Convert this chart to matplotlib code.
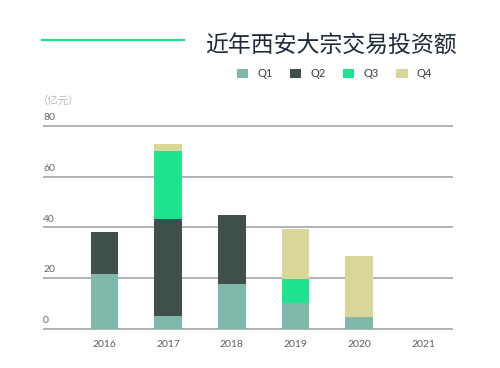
import numpy as np
import matplotlib.pyplot as plt
from matplotlib.lines import Line2D

plt.rcParams['font.family'] = ['Lato', 'Noto Sans CJK SC', 'DejaVu Sans']

# ── Data ──────────────────────────────────────────────────────────────────────
years = ['2016', '2017', '2018', '2019', '2020', '2021']
q1 = [21.5, 5.0, 17.7, 10.2, 4.6, 0]
q2 = [16.5, 38.4, 27.1, 0, 0, 0]
q3 = [0, 26.8, 0, 9.4, 0, 0]
q4 = [0, 2.5, 0, 19.9, 24.1, 0]
quarters = ['Q1', 'Q2', 'Q3', 'Q4']
colors = ['#80b9ab', '#3f4f4b', '#1ee28e', '#d8d699']
yticks = [0, 20, 40, 60, 80]

# ── Figure ────────────────────────────────────────────────────────────────────
fig = plt.figure(figsize=(5, 3.68), dpi=100)
ax = fig.add_axes([0.086, 0.0992, 0.821, 0.5659])

x = np.arange(len(years))
bottom = np.zeros(len(years))
handles = []
for vals, col, lab in zip([q1, q2, q3, q4], colors, quarters):
    b = ax.bar(x, vals, width=0.435, bottom=bottom, color=col, label=lab,
               zorder=3, linewidth=0)
    bottom += np.array(vals)
    handles.append(b)

for t in yticks:
    ax.axhline(t, color='#a2a7ac', lw=1.2, zorder=1)
    ax.text(0.0, t + 1.5, str(t), transform=ax.get_yaxis_transform(),
            ha='left', va='bottom', fontsize=7.5, color='#62666b')

ax.set_xlim(-0.966, 5.48)
ax.set_ylim(-1, 81)
ax.set_xticks(x)
ax.set_xticklabels(years, fontsize=7.5, color='#5a5e63')
ax.tick_params(axis='x', length=0, pad=6)
ax.set_yticks([])
for s in ax.spines.values():
    s.set_visible(False)

# unit label
fig.text(0.076, 0.724, '（亿元）', fontsize=7.5, color='#b8bcc0', ha='left', va='center',
         family=['Noto Sans CJK SC', 'DejaVu Sans'])

# title and accent line
fig.add_artist(Line2D([0.084, 0.368], [0.891, 0.891], color='#1ee28e', lw=1.6))
fig.text(0.914, 0.878, '近年西安大宗交易投资额', fontsize=16.5, color='#1f2b3a',
         ha='right', va='center', family=['Noto Sans CJK SC', 'DejaVu Sans'])

fig.legend(handles=handles, labels=quarters, loc='center', ncol=4,
           bbox_to_anchor=(0.669, 0.799), frameon=False, fontsize=8,
           handlelength=1.0, handleheight=0.9, handletextpad=0.8,
           columnspacing=1.6, labelcolor='#3a3f44')

fig.savefig('out.png', dpi=100)
